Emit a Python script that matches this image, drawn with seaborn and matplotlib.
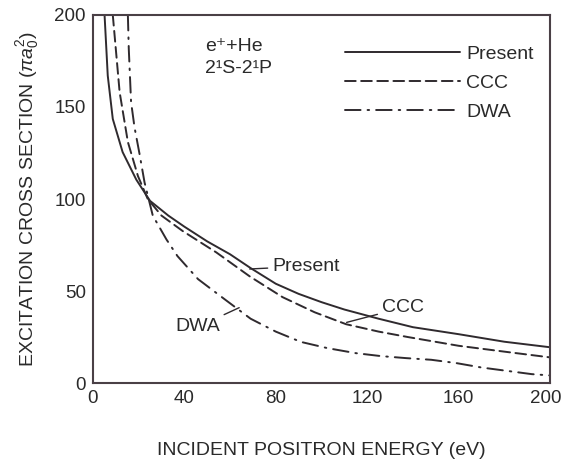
import matplotlib
matplotlib.use("Agg")
import matplotlib.pyplot as plt
import matplotlib.transforms as mtransforms
import seaborn as sns
import pandas as pd

# ---- data ----
present_E = [5.1, 6.5, 8.7, 13, 19, 25, 33, 40, 50, 60, 69, 80, 90, 100, 110, 125, 140, 160, 180, 200]
present_V = [200, 167, 143.5, 125.5, 110.5, 99, 91, 85, 77, 70, 62.5, 54, 48.5, 44, 40, 35, 30.4, 26.6, 22.5, 19.5]

ccc_E = [8.7, 11.7, 15.3, 19.7, 24, 30, 39.3, 54, 68.6, 83, 97, 110.8, 125, 138, 160, 182, 200]
ccc_V = [200, 158, 131, 112.5, 100, 91, 82.6, 71, 58, 46.7, 38.5, 32, 28, 25, 20.3, 16.8, 14]

dwa_E = [15.3, 15.7, 16.7, 18.2, 20.4, 22.6, 26.2, 32.2, 37, 46, 57.6, 69, 80, 91, 102.7,
         115, 126, 137, 148, 159, 170, 181, 192, 200]
dwa_V = [200, 181.5, 152.7, 139, 124.5, 109, 91, 78, 69, 56.5, 45.6, 35, 28, 22.4, 19,
         16.3, 14.7, 13.6, 12.7, 10.9, 8.5, 6.7, 4.9, 4.2]

x_ticks = [0, 40, 80, 120, 160, 200]
y_ticks = [0, 50, 100, 150, 200]
series_names = ["Present", "CCC", "DWA"]

# ---- style ----
sns.set_theme(style="white")
plt.rcParams["font.family"] = ["Liberation Sans", "DejaVu Sans"]
plt.rcParams["mathtext.fontset"] = "custom"
plt.rcParams["mathtext.rm"] = "Liberation Sans"
plt.rcParams["mathtext.it"] = "Liberation Sans:italic"
plt.rcParams["mathtext.bf"] = "Liberation Sans:bold"

ink = "#2f2a2e"
frame = "#4a4046"
txt = "#2a2a2a"

fig = plt.figure(figsize=(5.63, 4.65), dpi=100)
ax = fig.add_axes([0.165, 0.176, 0.812, 0.792])

df = pd.concat([
    pd.DataFrame({"E": present_E, "V": present_V, "model": "Present"}),
    pd.DataFrame({"E": ccc_E, "V": ccc_V, "model": "CCC"}),
    pd.DataFrame({"E": dwa_E, "V": dwa_V, "model": "DWA"}),
], ignore_index=True)

styles = {
    "Present": "-",
    "CCC": (0, (5.5, 2.8)),
    "DWA": (0, (8, 3.6, 0.8, 3.6)),
}
for name in series_names:
    sub = df[df["model"] == name]
    sns.lineplot(data=sub, x="E", y="V", ax=ax, color=ink, lw=1.4,
                 linestyle=styles[name], label=name, sort=False,
                 dash_capstyle="round", solid_capstyle="round")

ax.set_xlim(0, 200)
ax.set_ylim(0, 200)
ax.set_xticks(x_ticks)
ax.set_yticks(y_ticks)
ax.tick_params(axis="both", direction="in", length=2.5, width=1.6, color=frame,
               labelsize=13.5, labelcolor=txt, pad=5)

# nudge the last x tick label so it stays inside the figure
last = ax.get_xticklabels()[-1]
last.set_transform(last.get_transform() +
                   mtransforms.ScaledTranslation(-4 / 100, 0, fig.dpi_scale_trans))

for s in ax.spines.values():
    s.set_color(frame)
    s.set_linewidth(1.5)
    s.set_visible(True)

ax.set_xlabel("INCIDENT POSITRON ENERGY (eV)", fontsize=14, color=txt, labelpad=25)
ax.set_ylabel(r"EXCITATION CROSS SECTION ($\pi\mathit{a}_0^2$)", fontsize=14, color=txt, labelpad=10)

leg = ax.legend(loc="upper left", bbox_to_anchor=(0.551, 0.918), frameon=False,
                fontsize=14, handlelength=5.9, handletextpad=0.35, labelspacing=0.6,
                borderpad=0, borderaxespad=0)
for t in leg.get_texts():
    t.set_color(txt)

ax.text(49, 183, "e\u207a+He", fontsize=14, color=txt, va="center", ha="left",
        family=["Liberation Sans", "DejaVu Sans"])
ax.text(49, 171, "2\u00b9S-2\u00b9P", fontsize=14, color=txt, va="center", ha="left",
        family=["Liberation Sans", "DejaVu Sans"])

ax.annotate("Present", xy=(68.6, 62.0), xytext=(78.5, 63.5), fontsize=14, color=txt,
            va="center", ha="left",
            arrowprops=dict(arrowstyle="-", color=ink, lw=1.0, shrinkA=1, shrinkB=0))
ax.annotate("CCC", xy=(111, 33), xytext=(126.5, 41), fontsize=14, color=txt,
            va="center", ha="left",
            arrowprops=dict(arrowstyle="-", color=ink, lw=1.0, shrinkA=1, shrinkB=0))
ax.annotate("DWA", xy=(64, 41), xytext=(55.5, 30.5), fontsize=14, color=txt,
            va="center", ha="right",
            arrowprops=dict(arrowstyle="-", color=ink, lw=1.0, shrinkA=1, shrinkB=0))

fig.savefig("out.png", dpi=100)
